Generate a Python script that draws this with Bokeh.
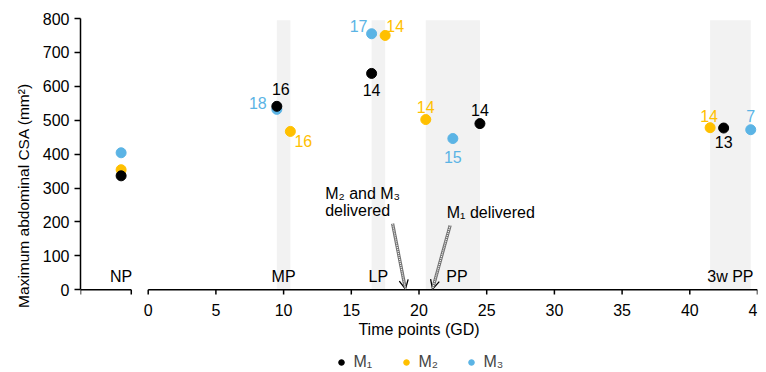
from bokeh.plotting import figure
from bokeh.models import (FixedTicker, Arrow, OpenHead, Legend, LegendItem,
                          ColumnDataSource, Range1d)
from bokeh.core.properties import value
from bokeh.embed import file_html
from bokeh.resources import INLINE

FONT = "Liberation Sans"
FS = "16px"

# ---------------- data ----------------
phases = ["NP", "MP", "LP", "PP", "3w PP"]
phase_x = [-2, 10, 17, 22.8, 43]
band_start = [9.5, 16.5, 20.5, 41.5]
band_end = [10.5, 17.5, 24.5, 44.5]

m1_x = [-2, 9.5, 16.5, 24.5, 42.5]
m1_y = [336, 541, 638, 490, 477]
m1_n = ["", "16", "14", "14", "13"]

m2_x = [-2, 10.5, 17.5, 20.5, 41.5]
m2_y = [354, 467, 750, 502, 478]
m2_n = ["", "16", "14", "14", "14"]

m3_x = [-2, 9.5, 16.5, 22.5, 44.5]
m3_y = [404, 532, 755, 446, 472]
m3_n = ["", "18", "17", "15", "7"]

delivered_gd = [19, 21]          # M2&M3 delivered, M1 delivered

x_ticks = [0, 5, 10, 15, 20, 25, 30, 35, 40, 45]
x_tick_labels = [str(t) for t in x_ticks]
y_ticks = [0, 100, 200, 300, 400, 500, 600, 700, 800]

# ---------------- styles ----------------
C1, C2, C3 = "#000000", "#FFC000", "#5BB4E5"
m1_dx, m1_dy = [0, 4, 0, 0, 0], [0, -17, 17, -14, 14]
m2_dx, m2_dy = [0, 13, 10, 0, -1], [0, 10, -9, -13, -12]
m3_dx, m3_dy = [0, -19, -13, 0, 0], [0, -6, -8, 18, -14]

# frame extends below y=0 so the x-axis decorations and legend live inside it
p = figure(frame_width=677, frame_height=354, output_backend="svg", toolbar_location=None,
           x_range=Range1d(-5, 45), y_range=Range1d(-244, 800),
           min_border_left=80, min_border_right=9, min_border_top=18, min_border_bottom=0)
p.outline_line_color = None
p.grid.visible = False
p.background_fill_color = "white"
p.xaxis.visible = False

# shaded phase bands
p.quad(left=band_start, right=band_end, bottom=0, top=795, fill_color="#F2F2F2", line_color=None)

# broken x axis line + ticks + tick labels + axis title
p.segment(x0=[-5, 0], y0=[0, 0], x1=[-1.25, 45], y1=[0, 0], line_color="black", line_width=1.5)
all_ticks = [-5, -1.25] + x_ticks
p.segment(x0=all_ticks, y0=[0] * len(all_ticks), x1=all_ticks, y1=[-14] * len(all_ticks),
          line_color="black", line_width=1.5)
p.text(x=x_ticks, y=[0] * len(x_ticks), text=x_tick_labels, y_offset=20,
       text_align="center", text_baseline="middle", text_font=value(FONT),
       text_font_size=FS, text_color="black")
p.text(x=[20], y=[0], text=["Time points (GD)"], y_offset=40,
       text_align="center", text_baseline="middle", text_font=value(FONT),
       text_font_size=FS, text_color="black")

# phase labels
p.text(x=phase_x, y=[40] * len(phases), text=phases, text_align="center", text_baseline="middle",
       text_font=value(FONT), text_font_size=FS, text_color="black")

# series (blue first so black sits on top at MP)
r3 = p.scatter(m3_x, m3_y, size=10, color=C3)
r2 = p.scatter(m2_x, m2_y, size=10, color=C2)
r1 = p.scatter(m1_x, m1_y, size=10, color=C1)

for xs, ys, ns, dx, dy, c in [(m1_x, m1_y, m1_n, m1_dx, m1_dy, C1),
                              (m2_x, m2_y, m2_n, m2_dx, m2_dy, C2),
                              (m3_x, m3_y, m3_n, m3_dx, m3_dy, C3)]:
    src = ColumnDataSource(dict(x=xs, y=ys, t=ns, dx=dx, dy=dy))
    p.text(x="x", y="y", text="t", x_offset="dx", y_offset="dy", source=src,
           text_align="center", text_baseline="middle", text_font=value(FONT),
           text_font_size=FS, text_color=c)

# delivery annotations
tails = [(delivered_gd[0] - 0.95, 195), (delivered_gd[1] + 1.3, 190)]
for gd, (tx, ty) in zip(delivered_gd, tails):
    p.add_layout(Arrow(end=OpenHead(size=9, line_width=1.3, line_color="black"),
                       x_start=tx, y_start=ty, x_end=gd, y_end=2,
                       line_color="#707070", line_width=3.2))
    p.add_layout(Arrow(end=None, x_start=tx, y_start=ty, x_end=gd, y_end=2,
                       line_color="white", line_width=1.2, line_dash="1 1"))

p.text(x=[13.07, 13.07], y=[284, 234], text=["M\u2082 and M\u2083", "delivered"],
       text_align="left", text_baseline="middle", text_font=value(FONT),
       text_font_size=FS, text_color="black")
p.text(x=[22.05], y=[228], text=["M\u2081 delivered"],
       text_align="left", text_baseline="middle", text_font=value(FONT),
       text_font_size=FS, text_color="black")

# y axis
p.yaxis.ticker = FixedTicker(ticks=y_ticks)
p.yaxis.bounds = (0, 800)
p.yaxis.major_tick_in = 0
p.yaxis.major_tick_out = 6
p.yaxis.axis_line_width = 1.5
p.yaxis.major_tick_line_width = 1.5
p.yaxis.minor_tick_line_color = None
p.yaxis.axis_label = "Maximum abdominal CSA (mm\u00b2)"
p.yaxis.major_label_text_font = FONT
p.yaxis.major_label_text_font_size = FS
p.yaxis.major_label_text_color = "black"
p.yaxis.axis_label_text_font = FONT
p.yaxis.axis_label_text_font_size = "15.5px"
p.yaxis.axis_label_text_font_style = "normal"
p.yaxis.axis_label_text_color = "black"
p.yaxis.major_label_standoff = 5
p.yaxis.axis_label_standoff = 8

legend = Legend(items=[LegendItem(label="M\u2081", renderers=[r1]),
                       LegendItem(label="M\u2082", renderers=[r2]),
                       LegendItem(label="M\u2083", renderers=[r3])],
                orientation="horizontal", location="bottom_center",
                label_text_font=FONT, label_text_font_size=FS,
                border_line_color=None, background_fill_alpha=0,
                spacing=25, glyph_width=14, label_standoff=6, padding=1, margin=0)
p.add_layout(legend, "center")

open("out.html", "w").write(file_html(p, INLINE))
